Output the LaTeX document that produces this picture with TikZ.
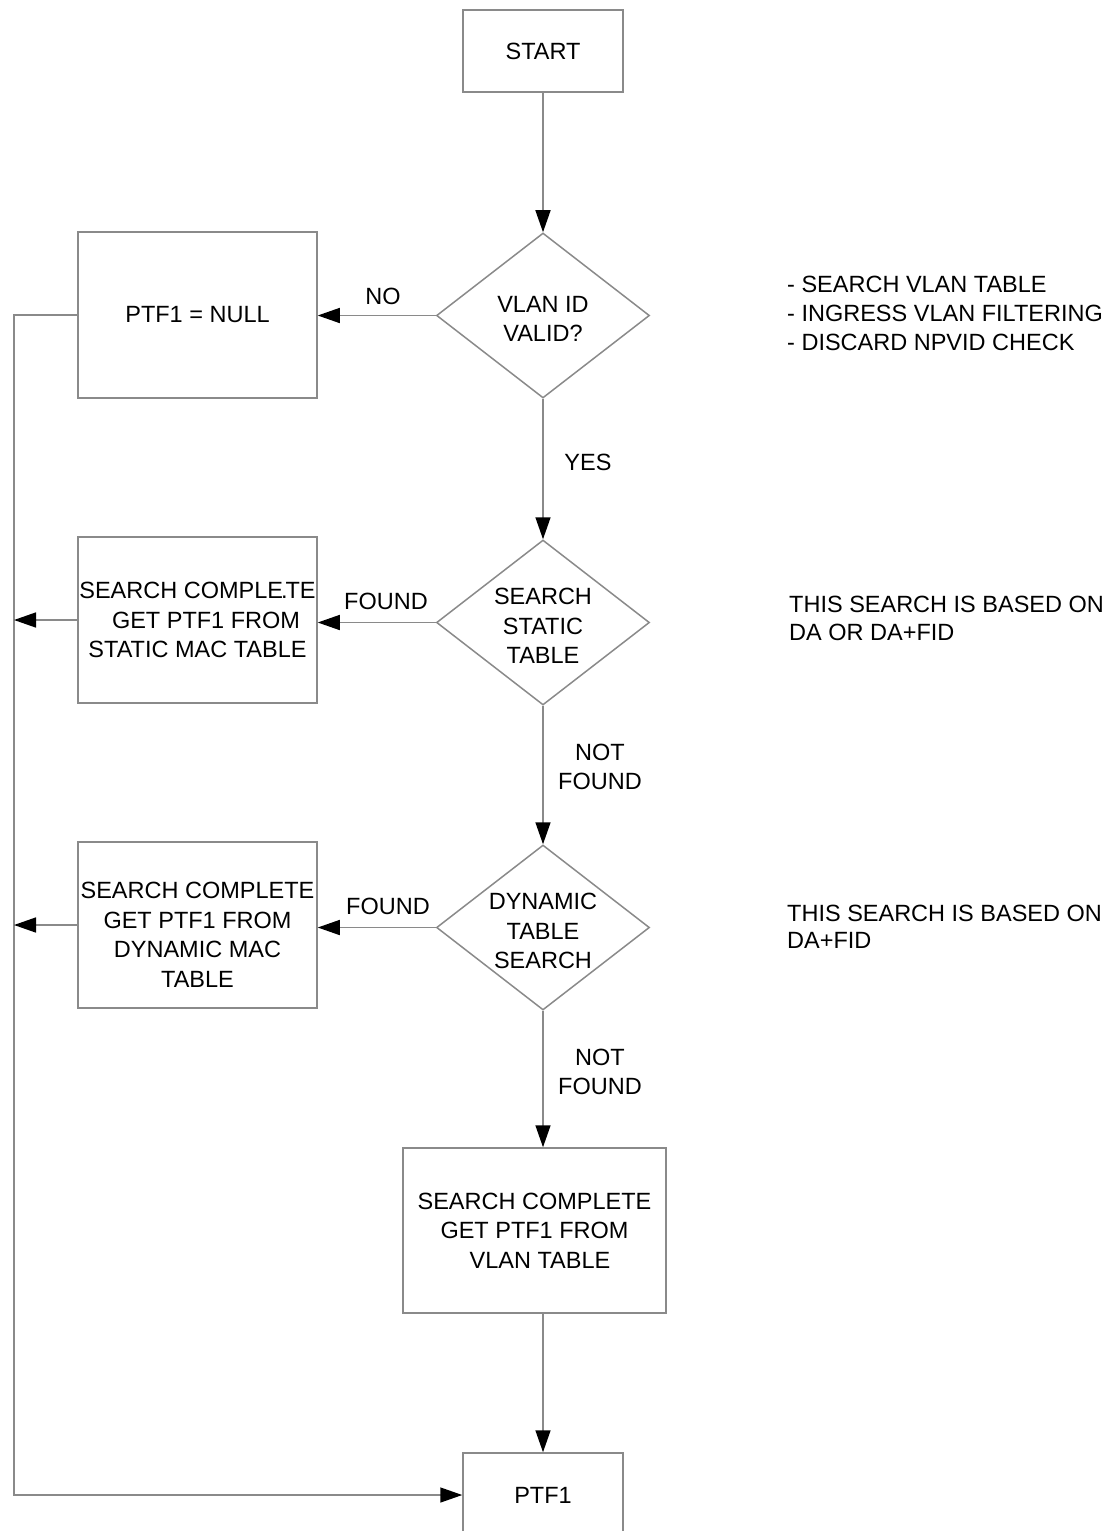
\documentclass[tikz,border=0pt]{standalone}
\usepackage{fontspec}
\setmainfont{Liberation Sans}
\usetikzlibrary{shapes.geometric,arrows.meta}
\definecolor{linegray}{HTML}{8A8A8A}
\begin{document}
\begin{tikzpicture}[x=1pt,y=-1pt,
  font=\fontsize{23.5}{29.5}\selectfont,
  box/.style={draw=linegray, line width=1.5pt, rectangle, inner sep=0pt, align=center},
  dia/.style={draw=linegray, line width=1.5pt, diamond, inner sep=0pt, minimum width=213pt, minimum height=165pt},
  conn/.style={draw=linegray, line width=1.5pt, -{Triangle[length=22pt,width=15pt,color=black]}},
  lbl/.style={inner sep=0pt, align=center},
  dlbl/.style={inner sep=0pt, align=center, yshift=-3.5pt},
  note/.style={inner sep=0pt, align=left, anchor=west}]
\useasboundingbox (0,0) rectangle (1114,1531);
\clip (0,0) rectangle (1114,1531);

% boxes
\node[box, minimum width=160pt, minimum height=82pt] (start) at (543,51) {START};
\node[box, minimum width=239pt, minimum height=166pt] (null) at (197.5,315) {PTF1 = NULL};
\node[box, minimum width=239pt, minimum height=166pt] (stat) at (197.5,620)
  {SEARCH COMPLE\kern-2pt.\kern-2pt TE\\\hspace*{17pt}GET PTF1 FROM\\STATIC MAC TABLE};
\node[box, minimum width=239pt, minimum height=166pt,
  label={[lbl,yshift=-10pt]center:SEARCH COMPLETE\\GET PTF1 FROM\\DYNAMIC MAC\\TABLE}] (dyn) at (197.5,925) {};
\node[box, minimum width=263pt, minimum height=165pt] (vlan) at (534.5,1230.5)
  {SEARCH COMPLETE\\GET PTF1 FROM\\\hspace*{11pt}VLAN TABLE};
\node[box, minimum width=160pt, minimum height=84pt] (ptf) at (543,1495) {PTF1};

% diamonds
\node[dia, label={[dlbl]center:VLAN ID\\VALID?}] (d1) at (543,315.5) {};
\node[dia, label={[dlbl]center:SEARCH\\STATIC\\TABLE}] (d2) at (543,622.5) {};
\node[dia, label={[dlbl]center:DYNAMIC\\TABLE\\SEARCH}] (d3) at (543,927.5) {};

% notes
\node[note, font=\fontsize{23.5}{29}\selectfont] (n1) at (787,313)
  {- SEARCH VLAN TABLE\\- INGRESS VLAN FILTERING\\- DISCARD NPVID CHECK};
\node[note, font=\fontsize{23.5}{28}\selectfont] (n2) at (789,618)
  {THIS SEARCH IS BASED ON\\DA OR DA+FID};
\node[note, font=\fontsize{23.5}{27}\selectfont] (n3) at (787,926.5)
  {THIS SEARCH IS BASED ON\\DA+FID};

% connector labels
\node[lbl] (lno) at (383,296) {NO};
\node[lbl] (lyes) at (588,462) {YES};
\node[lbl] (lf1) at (386,601) {FOUND};
\node[lbl] (lf2) at (388,906) {FOUND};
\node[lbl] (lnf1) at (600,767) {NOT\\FOUND};
\node[lbl] (lnf2) at (600,1072) {NOT\\FOUND};

% left bus
\coordinate (c1) at (14,315);
\coordinate (c2) at (14,1495);

% connectors
\draw[conn] (start) -- (d1);
\draw[conn] (d1.west) -- (d1.west -| null.east);
\draw[conn] (d1.south) -- (d2.north);
\draw[conn] (d2.west) -- (d2.west -| stat.east);
\draw[conn] (d2.south) -- (d3.north);
\draw[conn] (d3.west) -- (d3.west -| dyn.east);
\draw[conn] (d3.south) -- (d3.south |- vlan.north);
\draw[conn] (ptf.north |- vlan.south) -- (ptf.north);
\draw[conn] (null.west) -- (c1) -- (c2) -- (ptf.west);
\draw[conn] (stat.west) -- (stat.west -| c1);
\draw[conn] (dyn.west) -- (dyn.west -| c1);
\end{tikzpicture}
\end{document}
